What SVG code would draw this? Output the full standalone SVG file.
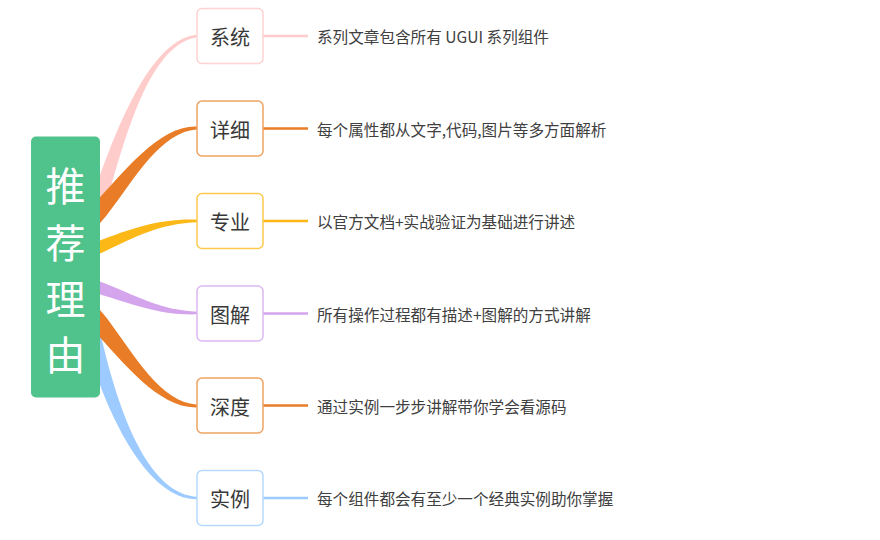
<svg xmlns="http://www.w3.org/2000/svg" width="880" height="540" viewBox="0 0 880 540">
  <style>
    .box { fill: #ffffff; stroke-width: 1.5; }
    .lbl { font-family: "Noto Sans CJK SC", "Noto Sans", sans-serif; font-size: 20px; fill: #383838; text-anchor: middle; dominant-baseline: central; }
    .desc { font-family: "Noto Sans CJK SC", "Noto Sans", sans-serif; font-size: 15.6px; fill: #404040; dominant-baseline: central; }
    .root-t { font-family: "Noto Sans CJK SC", "Noto Sans", sans-serif; font-size: 40px; fill: #ffffff; text-anchor: middle; dominant-baseline: central; }
    .lead { fill: none; stroke-width: 2.5; }
  </style>
  <rect width="880" height="540" fill="#ffffff"/>
  <g id="connectors">
    <path d="M 92.9 195.7 C 114.6 133.3 150 37.2 198 34.7 L 198 37.3 C 150 42.8 125.4 136.7 107.1 200.3 Z" fill="#ffcccc"/>
    <path d="M 93.6 204.5 C 125.2 170.9 160 124.5 198 126.7 L 198 129.3 C 160 131.5 134.8 179.2 106.5 215.5 L 96.7 226.9 Z" fill="#e97d27"/>
    <path d="M 97.6 241.5 C 133.2 227.9 160 218.4 198 219.7 L 198 222.3 C 160 223.6 136.8 236.1 102.4 252.5 L 93.2 256.4 Z" fill="#fbb816"/>
    <path d="M 92.4 279.1 L 101.9 282.3 C 136.5 295.7 160 310.4 198 311.7 L 198 314.3 C 160 315.6 133.5 304.3 98.1 293.7 Z" fill="#d4a5ec"/>
    <path d="M 99.6 331.3 L 102.7 342.9 C 120.8 418.5 150 495 198 496.7 L 198 499.3 C 150 501 109.2 421.6 87.3 347.1 Z" fill="#9ecbff"/>
    <path d="M 97.3 306.7 L 106.9 318.2 C 135.2 355.7 160 402.5 198 404.7 L 198 407.3 C 160 409.5 124.8 364.3 93.1 329.8 Z" fill="#e97d27"/>
    <line class="lead" x1="263" y1="36" x2="308" y2="36" stroke="#ffcccc"/>
    <line class="lead" x1="263" y1="128.5" x2="308" y2="128.5" stroke="#e97d27"/>
    <line class="lead" x1="263" y1="221" x2="308" y2="221" stroke="#fbb816"/>
    <line class="lead" x1="263" y1="313.5" x2="308" y2="313.5" stroke="#d4a5ec"/>
    <line class="lead" x1="263" y1="405.5" x2="308" y2="405.5" stroke="#e97d27"/>
    <line class="lead" x1="263" y1="498" x2="308" y2="498" stroke="#9ecbff"/>
  </g>
  <g id="root">
    <rect x="31" y="136.5" width="69" height="261" rx="5" fill="#50c28b"/>
    <text class="root-t" x="65.5" y="183.5">推</text>
    <text class="root-t" x="65.5" y="240.5">荐</text>
    <text class="root-t" x="65.5" y="296.5">理</text>
    <text class="root-t" x="65.5" y="352.5">由</text>
  </g>
  <g id="node-xitong">
    <rect class="box" x="197" y="8.5" width="66" height="55" rx="5" stroke="#ffd3d3"/>
    <text class="lbl" x="230" y="36.5">系统</text>
    <text class="desc" x="317" y="36">系列文章包含所有 UGUI 系列组件</text>
  </g>
  <g id="node-xiangxi">
    <rect class="box" x="197" y="101" width="66" height="55" rx="5" stroke="#eea263"/>
    <text class="lbl" x="230" y="129">详细</text>
    <text class="desc" x="317" y="128.5">每个属性都从文字,代码,图片等多方面解析</text>
  </g>
  <g id="node-zhuanye">
    <rect class="box" x="197" y="193.5" width="66" height="55" rx="5" stroke="#fdc94f"/>
    <text class="lbl" x="230" y="221.5">专业</text>
    <text class="desc" x="317" y="221">以官方文档+实战验证为基础进行讲述</text>
  </g>
  <g id="node-tujie">
    <rect class="box" x="197" y="286" width="66" height="55" rx="5" stroke="#dcb8f0"/>
    <text class="lbl" x="230" y="314">图解</text>
    <text class="desc" x="317" y="313.5">所有操作过程都有描述+图解的方式讲解</text>
  </g>
  <g id="node-shendu">
    <rect class="box" x="197" y="378" width="66" height="55" rx="5" stroke="#eea263"/>
    <text class="lbl" x="230" y="406">深度</text>
    <text class="desc" x="317" y="405.5">通过实例一步步讲解带你学会看源码</text>
  </g>
  <g id="node-shili">
    <rect class="box" x="197" y="470.5" width="66" height="55" rx="5" stroke="#b6d9ff"/>
    <text class="lbl" x="230" y="498.5">实例</text>
    <text class="desc" x="317" y="498">每个组件都会有至少一个经典实例助你掌握</text>
  </g>
</svg>
